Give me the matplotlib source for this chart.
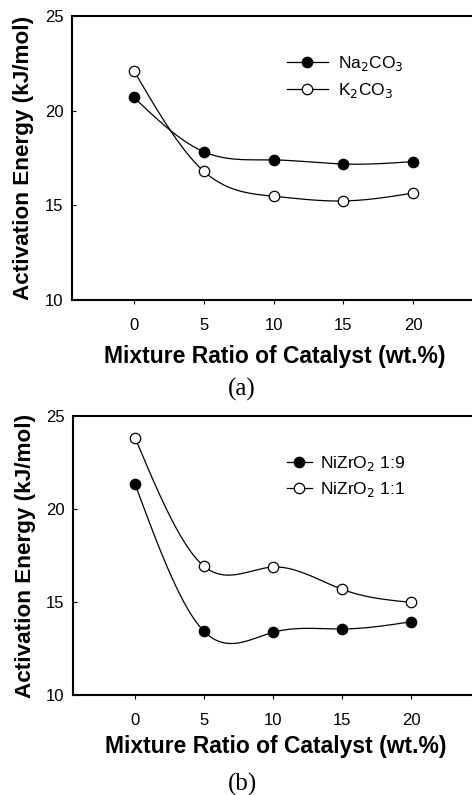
"""
Activation energy vs. mixture ratio of catalyst, two panels (a) and (b).
"""

import numpy as np
import matplotlib
matplotlib.use('Agg')
import matplotlib.pyplot as plt


# data
ratio = [0, 5, 10, 15, 20]

na2co3 = [20.7, 17.83, 17.4, 17.18, 17.31]
k2co3 = [22.11, 16.8, 15.48, 15.23, 15.65]

nizro2_19 = [21.34, 13.42, 13.37, 13.55, 13.94]
nizro2_11 = [23.84, 16.92, 16.88, 15.68, 14.98]

xticks = [0, 5, 10, 15, 20]
yticks = [10, 15, 20, 25]


# natural cubic spline through the points (the original uses smoothed lines)
def spline(x, y, n=200):
    x = np.asarray(x, float)
    y = np.asarray(y, float)
    k = len(x)
    h = np.diff(x)
    a = np.zeros((k, k))
    b = np.zeros(k)
    a[0, 0] = 1
    a[-1, -1] = 1
    for i in range(1, k - 1):
        a[i, i - 1] = h[i - 1]
        a[i, i] = 2 * (h[i - 1] + h[i])
        a[i, i + 1] = h[i]
        b[i] = 6 * ((y[i + 1] - y[i]) / h[i] - (y[i] - y[i - 1]) / h[i - 1])
    m = np.linalg.solve(a, b)
    xs = np.linspace(x[0], x[-1], n)
    idx = np.clip(np.searchsorted(x, xs) - 1, 0, k - 2)
    x0, x1 = x[idx], x[idx + 1]
    hh = x1 - x0
    t0 = x1 - xs
    t1 = xs - x0
    ys = (m[idx] * t0 ** 3 / (6 * hh) + m[idx + 1] * t1 ** 3 / (6 * hh)
          + (y[idx] / hh - m[idx] * hh / 6) * t0
          + (y[idx + 1] / hh - m[idx + 1] * hh / 6) * t1)
    return xs, ys


def draw_panel(ax, series, xlim, leg, tag, px_h, xlab_off):
    for vals, label, face in series:
        xs, ys = spline(ratio, vals)
        ax.plot(xs, ys, color='black', lw=0.9)
        ax.plot(ratio, vals, 'o', color='black', mfc=face, mec='black',
                ms=7.5, mew=0.9)
        # legend proxy
        ax.plot([], [], '-o', color='black', mfc=face, mec='black', ms=7.5,
                mew=0.9, lw=0.9, label=label)

    ax.set_xlim(*xlim)
    ax.set_ylim(10, 25)
    ax.set_xticks(xticks)
    ax.set_yticks(yticks)
    ax.spines['right'].set_visible(False)
    for s in ['left', 'top', 'bottom']:
        ax.spines[s].set_linewidth(1.5)
    ax.tick_params(axis='x', direction='out', length=3, width=0.8, pad=10,
                   labelsize=12)
    ax.tick_params(axis='y', direction='in', length=3, width=0.8, pad=6,
                   labelsize=12)
    for lab in ax.get_xticklabels() + ax.get_yticklabels():
        lab.set_family('Liberation Sans')

    ax.set_xlabel('Mixture Ratio of Catalyst (wt.%)', fontsize=16.5,
                  fontweight='bold', family='Liberation Sans', va='baseline')
    ax.xaxis.set_label_coords(0.508, -xlab_off / px_h)
    ax.set_ylabel('Activation Energy (kJ/mol)', fontsize=16.2,
                  fontweight='bold', family='Liberation Sans', va='center')
    ax.yaxis.set_label_coords(-0.12, 0.5)

    anchor, hl, hp = leg
    ax.legend(loc='upper left', bbox_to_anchor=anchor, frameon=False,
              handlelength=hl, handletextpad=hp, labelspacing=0.45,
              borderaxespad=0, borderpad=0,
              prop={'family': 'Liberation Sans', 'size': 12.5})

    ax.text(0.425, -89 / px_h, tag, transform=ax.transAxes, ha='center',
            va='center', fontsize=18, family='Liberation Serif')


fig = plt.figure(figsize=(4.72, 7.95), dpi=100)

ax1 = fig.add_axes([72 / 472, 1 - 300 / 795, 1 - 72 / 472, 284 / 795])
draw_panel(ax1,
           [(na2co3, 'Na$_2$CO$_3$', 'black'),
            (k2co3, 'K$_2$CO$_3$', 'white')],
           (-4.43, 24.2), ((0.5375, 0.865), 2.36, 0.58), '(a)', 284, 63)

ax2 = fig.add_axes([73 / 472, 1 - 695 / 795, 1 - 73 / 472, 279 / 795])
draw_panel(ax2,
           [(nizro2_19, 'NiZrO$_2$ 1:9', 'black'),
            (nizro2_11, 'NiZrO$_2$ 1:1', 'white')],
           (-4.49, 24.4), ((0.536, 0.865), 1.44, 0.46), '(b)', 279, 58)

fig.savefig('out.png', dpi=100)
